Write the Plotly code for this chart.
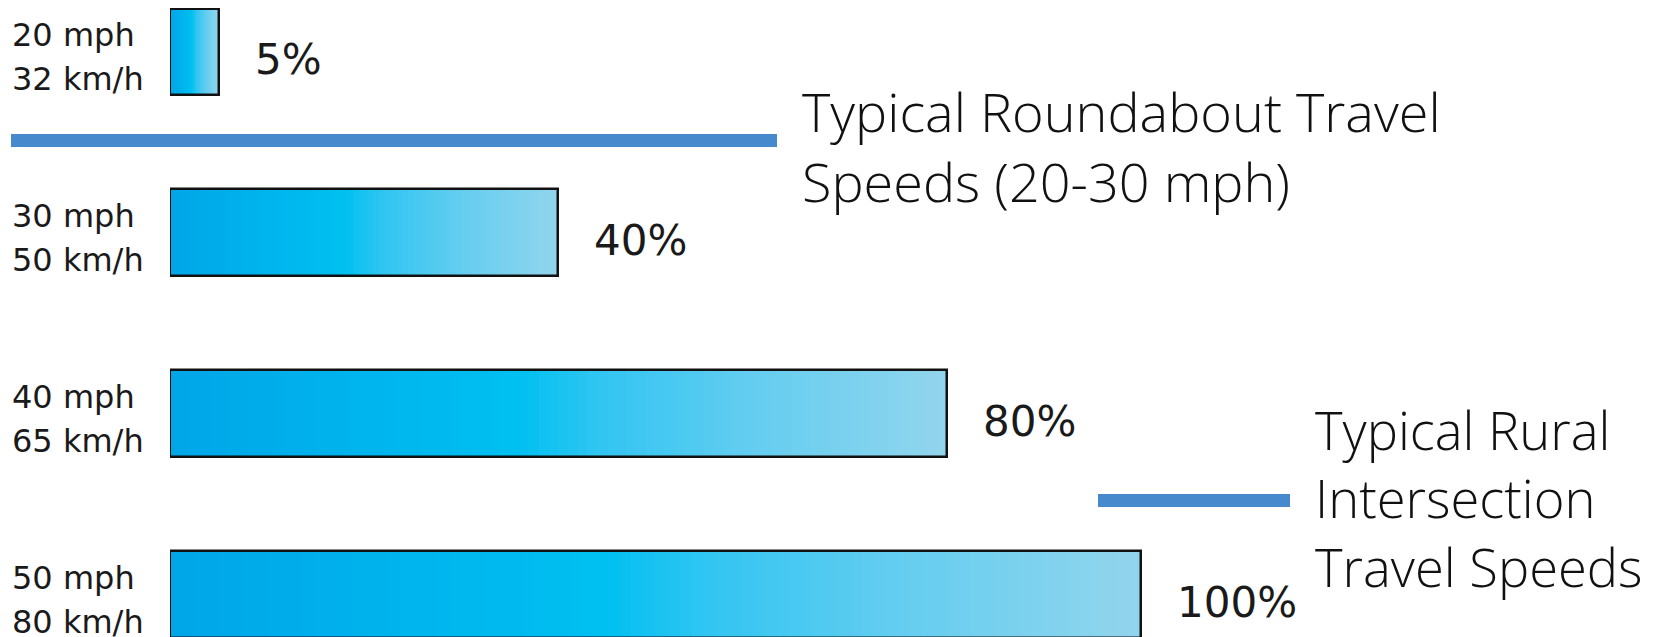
import plotly.graph_objects as go

# ---- data ----
mph_labels = ["20 mph", "30 mph", "40 mph", "50 mph"]
kmh_labels = ["32 km/h", "50 km/h", "65 km/h", "80 km/h"]
risk_pct = [5, 40, 80, 100]
pct_labels = ["5%", "40%", "80%", "100%"]
note_roundabout = "Typical Roundabout Travel<br>Speeds (20-30 mph)"
note_rural = "Typical Rural<br>Intersection<br>Travel Speeds"

W, H = 1663, 637
ML = 162
X_MAX = 154.6
BAR_W = 0.48

# gradient stops (position, rgb)
stops = [(0.0, (0, 166, 232)), (0.25, (0, 180, 237)), (0.45, (0, 192, 241)),
         (0.55, (48, 197, 241)), (0.75, (100, 205, 240)), (1.0, (146, 213, 236))]


def grad(t):
    for (p0, c0), (p1, c1) in zip(stops[:-1], stops[1:]):
        if p0 <= t <= p1:
            f = (t - p0) / (p1 - p0)
            return "rgb(%d,%d,%d)" % tuple(round(a + (b - a) * f) for a, b in zip(c0, c1))
    return "rgb(%d,%d,%d)" % stops[-1][1]


def px(xp):
    return (xp - ML) / (W - ML)


def py(yp):
    return 1 - yp / H


ypos = list(range(len(risk_pct)))
fig = go.Figure()
N = 80
for k in range(N):
    t = k / N
    fig.add_trace(go.Bar(
        y=ypos, x=[v * (1 - t) for v in risk_pct], base=[v * t for v in risk_pct],
        orientation="h", width=BAR_W, marker=dict(color=grad(t + 0.5 / N), line=dict(width=0)),
        showlegend=False, hoverinfo="skip"))
# outline
fig.add_trace(go.Bar(
    y=ypos, x=risk_pct, base=[0] * len(risk_pct), orientation="h", width=BAR_W,
    marker=dict(color="rgba(0,0,0,0)", line=dict(color="#111111", width=2.5)),
    showlegend=False, hoverinfo="skip"))

ann = []
lab_font = dict(family="DejaVu Sans", size=32, color="#1a1a1a")
for i in ypos:
    ann.append(dict(x=0, y=i, xref="x", yref="y", text=mph_labels[i], showarrow=False,
                    xanchor="left", yanchor="middle", xshift=-160, yshift=17, font=lab_font))
    ann.append(dict(x=0, y=i, xref="x", yref="y", text=kmh_labels[i], showarrow=False,
                    xanchor="left", yanchor="middle", xshift=-160, yshift=-27, font=lab_font))
    ann.append(dict(x=risk_pct[i], y=i, xref="x", yref="y", text=pct_labels[i], showarrow=False,
                    xanchor="left", yanchor="middle", xshift=34, yshift=-8,
                    font=dict(family="DejaVu Sans", size=42, color="#1a1a1a")))

ann.append(dict(x=px(792), y=py(138), xref="paper", yref="paper",
                text=note_roundabout, showarrow=False, xanchor="left", yanchor="middle",
                align="left", font=dict(family="Open Sans", size=54, color="#111111", weight=300)))
ann.append(dict(x=px(1305), y=py(490), xref="paper", yref="paper",
                text=note_rural, showarrow=False, xanchor="left", yanchor="middle",
                align="left", font=dict(family="Open Sans", size=52.5, color="#111111", weight=300)))

line_col = "#4689CD"
shapes = [
    dict(type="line", xref="paper", yref="paper", x0=px(3), x1=px(769),
         y0=py(132.5), y1=py(132.5), line=dict(color=line_col, width=13)),
    dict(type="line", xref="paper", yref="paper", x0=px(1090), x1=px(1282),
         y0=py(492.5), y1=py(492.5), line=dict(color=line_col, width=13)),
]

fig.update_layout(
    width=W, height=H, margin=dict(l=ML, r=0, t=0, b=0),
    paper_bgcolor="white", plot_bgcolor="white", barmode="overlay", bargap=0,
    xaxis=dict(range=[0, X_MAX], visible=False, fixedrange=True),
    yaxis=dict(range=[3.279, -0.243], visible=False, fixedrange=True),
    annotations=ann, shapes=shapes, showlegend=False,
)
fig.write_html("out.html", config={"displayModeBar": False})
